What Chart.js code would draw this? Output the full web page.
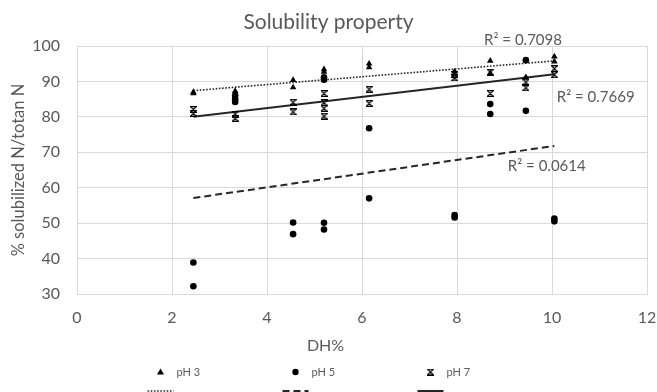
<!DOCTYPE html>
<html>
<head>
<meta charset="utf-8">
<script src="https://cdn.jsdelivr.net/npm/chart.js@4.4.1/dist/chart.umd.min.js"></script>
<style>
 html,body{margin:0;padding:0;background:#fff;}
</style>
</head>
<body>
<canvas id="chartID" width="657" height="392"></canvas>
<script>
// values
var pH3X=[2.45,2.45,3.33,3.33,4.55,4.55,5.2,5.2,6.15,6.15,7.95,8.7,8.7,9.45,10.05,10.05];
var pH3Y=[87.0,86.6,87.3,86.4,90.4,88.3,93.4,92.7,95.0,94.0,92.8,95.8,92.3,91.2,97.0,95.6];
var pH5X=[2.45,2.45,3.33,3.33,3.33,4.55,4.55,5.2,5.2,5.2,5.2,6.15,6.15,7.95,7.95,8.7,8.7,9.45,9.45,10.05,10.05];
var pH5Y=[38.9,32.2,86.0,85.0,84.2,50.2,46.9,91.2,90.5,50.1,48.2,76.8,57.0,52.3,51.6,83.6,80.8,96.0,81.7,51.3,50.5];
var pH7X=[2.45,2.45,3.33,3.33,4.55,4.55,5.2,5.2,5.2,5.2,6.15,6.15,7.95,7.95,8.7,8.7,9.45,9.45,10.05,10.05];
var pH7Y=[82.1,81.0,80.8,79.6,84.1,81.4,86.6,84.0,82.4,80.2,87.8,83.8,92.0,91.0,92.6,86.6,89.8,88.2,93.6,91.9];
// trendline ends
var trendX=[2.45,10.05];
var trendPH3=[87.4,95.8];
var trendPH5=[57.1,71.8];
var trendPH7=[80.0,92.0];
var seriesNames=['pH 3','pH 5','pH 7'];
var r2Values=['0.7098','0.0614','0.7669'];
var xTicks=[0,2,4,6,8,10,12];
var yTicks=[30,40,50,60,70,80,90,100];

var grey='#595959';
var fontFam='Lato, "Open Sans", sans-serif';

function pts(xs,ys) {
 var out=[];
 for (var i=0;i<xs.length;i++) {out.push({x:xs[i],y:ys[i]});}
 return out;
}

// the "x" marker of the sheet looks like a little hourglass
function hourglass() {
 var c=document.createElement('canvas'); c.width=7; c.height=7;
 var g=c.getContext('2d');
 g.strokeStyle='#000'; g.lineWidth=1.3;
 g.beginPath();
 g.moveTo(0.5,0.7); g.lineTo(6.5,0.7); g.lineTo(0.5,6.3); g.lineTo(6.5,6.3); g.closePath();
 g.stroke();
 return c;
}
var hgImg=hourglass();

// R² texts, placed in data units
var r2Labels={
 id:'r2Labels',
 afterDatasetsDraw(chart) {
  var c=chart.ctx, sx=chart.scales.x, sy=chart.scales.y;
  var spots=[[9.39,101.7],[9.89,66.2],[10.92,85.7]];
  c.save();
  c.font='15px '+fontFam; c.fillStyle=grey; c.textAlign='center'; c.textBaseline='middle';
  for (var i=0;i<r2Values.length;i++) {
   c.fillText('R² = '+r2Values[i],sx.getPixelForValue(spots[i][0]),sy.getPixelForValue(spots[i][1]));
  }
  c.restore();
 }
};

// x title and the two-row legend under it
var bottomLegend={
 id:'bottomLegend',
 afterDraw(chart) {
  var c=chart.ctx;
  var mid=chart.width/2 - 33;
  c.save();
  c.fillStyle=grey; c.textAlign='center'; c.textBaseline='middle';
  c.font='16px '+fontFam;
  c.fillText('DH%',mid+30,346);
  var cols=[mid-135,mid,mid+135];
  c.font='11px '+fontFam; c.textAlign='left';
  for (var i=0;i<3;i++) {
   var ds=chart.data.datasets[i];
   var x=cols[i], y=372;
   c.fillStyle='#000';
   if (ds.pointStyle=='triangle') {
    c.beginPath(); c.moveTo(x,y-3.5); c.lineTo(x+3.5,y+2.5); c.lineTo(x-3.5,y+2.5); c.closePath(); c.fill();
   } else if (ds.pointStyle=='circle') {
    c.beginPath(); c.arc(x,y,3.2,0,Math.PI*2); c.fill();
   } else {
    c.drawImage(hgImg,x-3.5,y-3.5);
   }
   c.fillStyle=grey;
   c.fillText(ds.label,x+16,y);
   // trend line sample
   var tl=chart.data.datasets[i+3];
   c.strokeStyle=tl.borderColor; c.lineWidth=tl.borderWidth;
   c.setLineDash(tl.borderDash||[]);
   c.beginPath(); c.moveTo(x-13,391); c.lineTo(x+13,391); c.stroke();
  }
  c.restore();
 }
};

var ctx=document.getElementById('chartID').getContext('2d');
var solChart=new Chart(ctx,{
 type:'scatter',
 data:{datasets:[
  {label:seriesNames[0],data:pts(pH3X,pH3Y),pointStyle:'triangle',pointRadius:3.8,backgroundColor:'#000',borderColor:'#000',borderWidth:0},
  {label:seriesNames[1],data:pts(pH5X,pH5Y),pointStyle:'circle',pointRadius:3.3,backgroundColor:'#000',borderColor:'#000',borderWidth:0},
  {label:seriesNames[2],data:pts(pH7X,pH7Y),pointStyle:hgImg,pointRadius:3.5},
  {label:'',data:pts(trendX,trendPH3),showLine:true,pointRadius:0,borderColor:'#262626',borderWidth:1.6,borderDash:[1.6,1.6]},
  {label:'',data:pts(trendX,trendPH5),showLine:true,pointRadius:0,borderColor:'#262626',borderWidth:2,borderDash:[7,4]},
  {label:'',data:pts(trendX,trendPH7),showLine:true,pointRadius:0,borderColor:'#262626',borderWidth:2}
 ]},
 options:{
  responsive:false, devicePixelRatio:1, animation:false,
  layout:{padding:{left:0,right:0,top:0,bottom:58}},
  plugins:{
   legend:{display:false}, tooltip:{enabled:false},
   title:{display:true,text:'Solubility property',color:grey,font:{family:fontFam,size:21,weight:'normal'},padding:{top:10,bottom:10.8}}
  },
  scales:{
   x:{type:'linear',min:0,max:12,
    afterBuildTicks(s){s.ticks=xTicks.map(function(v){return {value:v};});},
    afterFit(s){s.height=40; s.paddingRight=10;},
    grid:{color:'#d9d9d9',drawTicks:false},border:{color:'#d9d9d9'},
    ticks:{color:grey,padding:14,font:{family:fontFam,size:16}}},
   y:{type:'linear',min:30,max:100,
    afterBuildTicks(s){s.ticks=yTicks.map(function(v){return {value:v};});},
    afterFit(s){s.width=77;},
    grid:{color:'#d9d9d9',drawTicks:false},border:{color:'#d9d9d9'},
    ticks:{color:grey,padding:17,font:{family:fontFam,size:16}},
    title:{display:true,text:'% solubilized N/totan N',color:grey,font:{family:fontFam,size:16.5},padding:{top:9,bottom:0}}}
  }
 },
 plugins:[r2Labels,bottomLegend]
});
</script>
</body>
</html>
